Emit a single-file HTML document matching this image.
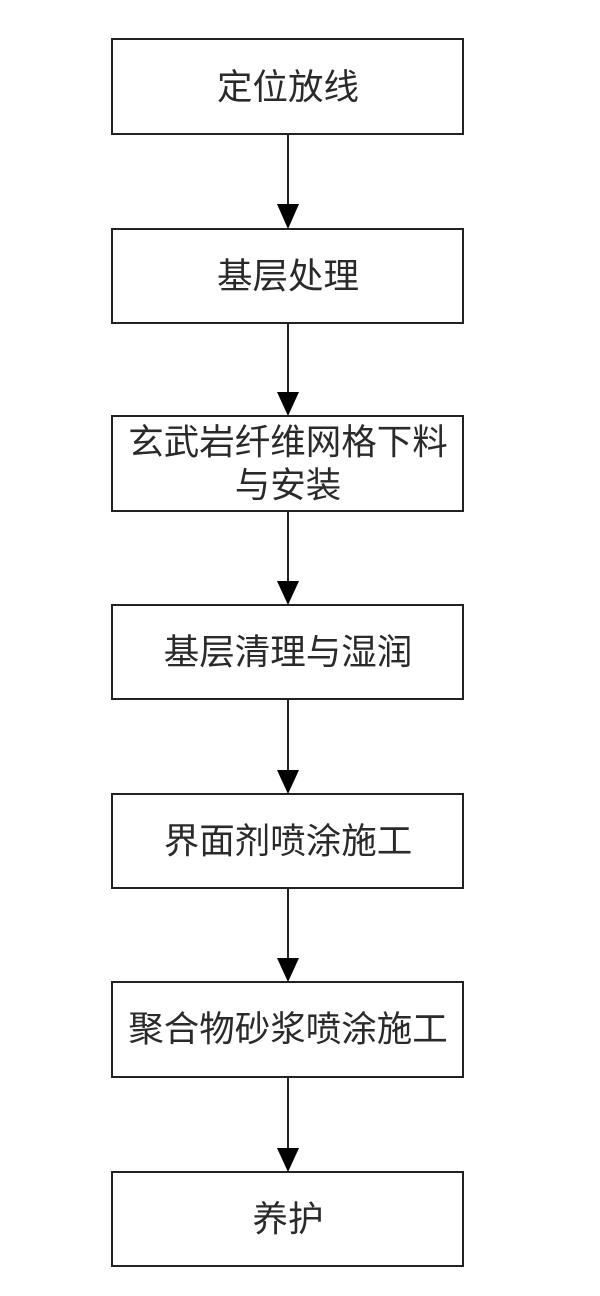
<!DOCTYPE html>
<html><head><meta charset="utf-8"><style>
html,body{margin:0;padding:0;background:#fff;}
svg{display:block;}
text{font-family:"Liberation Sans","Noto Sans CJK SC",sans-serif;font-size:35.5px;fill:#2a2a2a;text-anchor:middle;dominant-baseline:central;}
</style></head><body>
<svg width="600" height="1296" viewBox="0 0 600 1296" xmlns="http://www.w3.org/2000/svg">
<g fill="#fff" stroke="#222" stroke-width="2">
<rect x="112" y="39" width="351" height="95"/>
<rect x="112" y="229" width="351" height="94"/>
<rect x="112" y="416" width="351" height="95"/>
<rect x="112" y="605" width="351" height="94"/>
<rect x="112" y="794" width="351" height="94"/>
<rect x="112" y="982" width="351" height="95"/>
<rect x="112" y="1172" width="351" height="94"/>
</g>
<g stroke="#222" stroke-width="2">
<line x1="288" y1="134" x2="288" y2="206"/>
<line x1="288" y1="323" x2="288" y2="394"/>
<line x1="288" y1="511" x2="288" y2="583"/>
<line x1="288" y1="699" x2="288" y2="772"/>
<line x1="288" y1="888" x2="288" y2="960"/>
<line x1="288" y1="1077" x2="288" y2="1150"/>
</g>
<g fill="#000">
<polygon points="277,204 299,204 288,229"/>
<polygon points="277,392 299,392 288,416"/>
<polygon points="277,581 299,581 288,605"/>
<polygon points="277,770 299,770 288,794"/>
<polygon points="277,958 299,958 288,982"/>
<polygon points="277,1148 299,1148 288,1172"/>
</g>
<text x="288" y="87">定位放线</text>
<text x="288" y="276">基层处理</text>
<text x="288" y="442">玄武岩纤维网格下料</text>
<text x="288" y="485">与安装</text>
<text x="288" y="652">基层清理与湿润</text>
<text x="288" y="841">界面剂喷涂施工</text>
<text x="288" y="1029">聚合物砂浆喷涂施工</text>
<text x="288" y="1219">养护</text>
</svg>
</body></html>
